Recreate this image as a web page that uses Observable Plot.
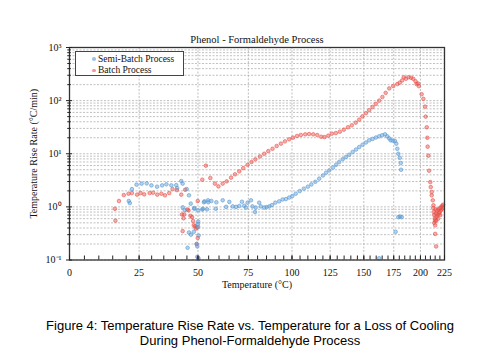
<!DOCTYPE html>
<html>
<head>
<meta charset="utf-8">
<script src="https://cdn.jsdelivr.net/npm/d3@7"></script>
<script src="https://cdn.jsdelivr.net/npm/@observablehq/plot@0.6"></script>
<style>
  body { margin: 0; background: #fff; }
  #wrap { position: relative; width: 500px; height: 363px; background: #fff; }
  #chart { position: absolute; left: 0; top: 0; }
  #legend { position: absolute; left: 75px; top: 51px; width: 107px; height: 23px; border: 1px solid #444; background: #fff;
            font-family: "Liberation Serif", "Times New Roman", serif; font-size: 9.5px; color: #111; }
  #legend .row { position: absolute; left: 0; height: 11px; line-height: 11px; white-space: nowrap; }
  #legend .mk { position: absolute; left: 16px; top: 3.5px; width: 3.5px; height: 3.5px; border-radius: 50%; }
  #legend .lb { position: absolute; left: 22px; top: 0; }
  #caption { position: absolute; top: 319px; left: 0; width: 500px; text-align: center;
             font: 13px/14.5px "Liberation Sans", Arial, sans-serif; color: #000; }
</style>
</head>
<body>
<div id="wrap">
  <div id="chart"></div>
  <div id="legend"></div>
  <div id="caption">Figure 4: Temperature Rise Rate vs. Temperature for a Loss of Cooling<br>During Phenol-Formaldehyde Process</div>
</div>
<script>
// ---------------- data ----------------
const title = "Phenol - Formaldehyde Process";
const xLabel = "Temperature (°C)";
const yLabel = "Temperature Rise Rate (°C/min)";
const seriesNames = ["Semi-Batch Process", "Batch Process"];
const seriesColors = ["#5b9bd5", "#e8504a"];

const xTicks = [0, 25, 50, 75, 100, 125, 150, 175, 200, 225];
const yTicks = [0.1, 1, 10, 100, 1000];

// Semi-Batch Process: temperature (°C) and rise rate (°C/min)
const semiT = [21.0, 21.4, 22.2, 24.0, 26.0, 28.0, 29.9, 32.2, 34.3, 36.1, 38.2, 40.3, 40.7, 42.5, 43.1, 44.9, 45.9, 46.7,
  43.1, 44.0, 48.4, 48.3, 50.1, 50.1, 50.0, 50.1, 45.9, 48.1, 46.8, 50.3, 45.3, 49.4, 49.7, 49.7, 50.2,
  52.0, 52.3, 52.8, 53.0, 54.2, 54.7, 54.8, 56.3, 58.4, 58.7, 61.8, 63.5, 65.1, 66.8, 68.5, 70.2, 71.6, 72.8, 73.7,
  74.6, 76.4, 77.2, 78.6, 79.0, 80.9, 81.8, 83.7, 85.0, 86.6, 88.1, 90.0, 92.3, 94.3, 96.3, 98.3, 100.2, 102.3,
  104.8, 107.4, 110.0, 112.3, 114.9, 117.5, 120.0, 122.2, 124.4, 127.0, 129.2, 131.4, 134.0, 136.4, 138.8, 141.4,
  143.9, 146.4, 149.0, 151.7, 154.3, 157.0, 159.7, 162.5, 165.0, 167.4, 169.4, 171.0, 172.3, 174.2, 176.1, 177.3,
  178.2, 179.1, 180.4, 181.3, 181.6, 179.1, 180.7, 182.2, 176.7, 162.5];
const semiRate = [1.29, 1.18, 2.16, 2.62, 2.74, 2.77, 2.54, 2.40, 2.54, 2.66, 2.54, 2.57, 2.26, 3.06, 2.74, 2.16, 1.65, 1.15,
  0.98, 0.87, 0.92, 0.95, 0.86, 0.53, 0.48, 0.42, 0.33, 0.34, 0.30, 0.29, 0.17, 0.20, 0.18, 0.115, 0.105,
  0.89, 0.92, 1.22, 1.27, 0.90, 1.33, 1.22, 1.29, 0.92, 1.22, 1.33, 1.00, 1.24, 1.02, 1.00, 1.04, 1.25, 1.05, 0.97,
  1.20, 1.33, 1.02, 0.80, 0.97, 1.20, 1.02, 0.97, 0.99, 1.02, 1.08, 1.20, 1.27, 1.38, 1.40, 1.50, 1.60, 1.77,
  1.98, 2.20, 2.40, 2.65, 2.97, 3.40, 3.90, 4.40, 4.87, 5.50, 6.20, 6.98, 7.90, 8.70, 9.60, 10.8,
  12.0, 13.4, 14.8, 16.3, 17.9, 19.0, 20.2, 21.3, 22.3, 23.2, 21.3, 19.5, 17.9, 17.6, 17.4, 15.5,
  12.4, 10.0, 8.4, 6.7, 5.0, 0.64, 0.66, 0.64, 0.34, 0.108];

// Batch Process: temperature (°C) and rise rate (°C/min)
const batchT = [15.8, 16.0, 17.3, 19.1, 20.9, 22.2, 24.2, 25.6, 27.0, 29.2, 30.6, 32.3, 34.0, 35.5, 37.3, 38.7, 40.6, 42.5, 44.2,
  42.8, 43.8, 43.5, 43.1, 45.2, 45.7, 46.6, 47.3, 47.8, 48.1, 48.7, 49.0, 49.7, 49.9, 49.4, 50.1, 49.9,
  52.0, 53.7, 55.8, 58.0, 59.7, 61.8, 63.8, 66.0, 68.0, 70.2, 72.3, 74.6, 76.7, 78.8, 81.3, 83.7, 86.0, 88.4, 90.8,
  93.3, 95.7, 98.3, 100.6, 103.1, 105.5, 108.3, 110.8, 113.5, 116.2, 118.9, 121.1, 123.7, 126.2, 129.0, 131.9,
  134.8, 137.8, 140.7, 143.7, 146.4, 148.9, 151.7, 154.3, 157.0, 159.6, 162.5, 165.2, 168.0, 171.1, 174.6, 178.2,
  180.4, 182.6, 184.1, 186.1, 188.5, 190.9, 193.0, 195.2, 196.2, 197.7, 198.5, 201.2, 202.9, 204.6, 205.2, 206.3,
  206.9, 207.2, 208.0, 208.7, 209.9, 210.4, 211.4, 211.4, 212.5, 213.2,
  213.0, 213.5, 214.0, 214.5, 215.0, 215.5, 216.0, 216.5, 217.0, 217.5, 218.0, 218.5, 219.0, 219.5, 220.0, 220.5,
  221.0, 221.5, 222.0, 222.5, 223.0, 223.5, 214.0, 215.0, 216.0, 215.0, 216.0];
const batchRate = [0.92, 0.55, 1.29, 1.67, 1.77, 1.82, 1.70, 1.82, 1.72, 1.82, 1.85, 1.70, 1.77, 1.65, 1.82, 2.16, 2.07, 1.70, 2.10,
  0.72, 0.72, 0.61, 0.35, 0.89, 0.86, 0.68, 0.64, 0.54, 0.45, 0.43, 0.39, 0.41, 0.26, 0.20, 0.11, 1.29,
  3.25, 5.97, 3.50, 2.74, 2.43, 2.74, 3.02, 3.55, 4.10, 4.66, 5.37, 6.20, 6.98, 7.86, 8.90, 10.0, 11.2, 12.4, 14.0,
  15.5, 17.1, 18.7, 20.1, 21.6, 22.6, 23.2, 23.5, 23.2, 22.5, 20.9, 20.6, 21.9, 23.9, 24.5, 26.0,
  28.4, 31.5, 34.3, 38.5, 43.8, 50.5, 58, 66, 75.5, 87, 100, 117, 140, 170, 188, 205,
  218, 240, 275, 258, 275, 270, 258, 232, 205, 210, 188, 132, 108, 77, 50, 31.5,
  20, 13.6, 9.2, 4.8, 2.93, 2.36, 1.9, 1.65, 1.33, 1.07,
  0.95, 0.80, 0.70, 0.60, 0.55, 0.90, 0.75, 0.65, 0.85, 0.70, 0.60, 0.90, 0.75, 0.80, 0.95, 0.70,
  0.85, 1.00, 0.90, 1.05, 0.95, 1.10, 0.50, 0.45, 0.55, 0.31, 0.18];

// ---------------- build ----------------
const inv = t => -1000 / (t + 273.15);          // Arrhenius-type axis (1/T)
const fromInv = v => -1000 / v - 273.15;

const semi = semiT.map((t, i) => ({t, r: semiRate[i]}));
const batch = batchT.map((t, i) => ({t, r: batchRate[i]}));

const yMinor = [];
for (let e = -1; e < 3; e++) for (let k = 2; k <= 9; k++) yMinor.push(k * Math.pow(10, e));
const yAll = yTicks.concat(yMinor);
const xMinor = d3.range(0, 226, 5);
const supMap = {"-": "⁻", "0": "⁰", "1": "¹", "2": "²", "3": "³", "4": "⁴", "5": "⁵", "6": "⁶", "7": "⁷", "8": "⁸", "9": "⁹"};
const pow10 = v => "10" + String(Math.round(Math.log10(v))).split("").map(c => supMap[c]).join("");

const chart = Plot.plot({
  width: 500,
  height: 300,
  marginLeft: 69,
  marginRight: 56,
  marginTop: 47,
  marginBottom: 40.5,
  style: {fontFamily: "'Liberation Serif', 'Times New Roman', serif", fontSize: "10px", background: "white", color: "#111"},
  x: {type: "linear", domain: [inv(0), inv(225)], axis: null},
  y: {type: "log", domain: [0.1, 1000], axis: null},
  marks: [
    Plot.gridY({ticks: yAll, stroke: "#b0b0b0", strokeOpacity: 1, strokeWidth: 0.8, strokeDasharray: "2,1.5"}),
    Plot.gridX({ticks: xTicks.map(inv), stroke: "#b0b0b0", strokeOpacity: 1, strokeWidth: 0.8, strokeDasharray: "2,1.5"}),
    Plot.dot(batch, {x: d => inv(d.t), y: "r", r: 1.8, fill: seriesColors[1], fillOpacity: 0.45, stroke: seriesColors[1], strokeOpacity: 0.75, strokeWidth: 0.8}),
    Plot.dot(semi, {x: d => inv(d.t), y: "r", r: 1.8, fill: seriesColors[0], fillOpacity: 0.45, stroke: seriesColors[0], strokeOpacity: 0.8, strokeWidth: 0.8}),
    Plot.frame({stroke: "#333", strokeWidth: 1.3}),
    Plot.axisY({ticks: yMinor, anchor: "left", tickSize: 3.5, insetLeft: 1.75, fill: "none", stroke: "#222", label: null}),
    Plot.axisY({ticks: yTicks, anchor: "left", tickSize: 6, insetLeft: 3, tickPadding: 5, tickFormat: pow10, stroke: "#222", fill: "#111", fontSize: 10, label: null}),
    Plot.axisX({ticks: xMinor.map(inv), anchor: "bottom", tickSize: 4, insetBottom: 4, fill: "none", stroke: "#222", label: null}),
    Plot.axisX({ticks: xTicks.map(inv), anchor: "bottom", tickSize: 4, insetBottom: 4, tickPadding: 9, tickFormat: v => Math.round(fromInv(v)), stroke: "#222", fill: "#111", fontSize: 10, label: null}),
    Plot.text([title], {text: d => d, frameAnchor: "top", lineAnchor: "middle", textAnchor: "middle", dy: -8, fontSize: 10.5, fill: "#111"}),
    Plot.text([xLabel], {text: d => d, frameAnchor: "bottom", lineAnchor: "middle", textAnchor: "middle", dy: 24.5, fontSize: 10, fill: "#111"}),
    Plot.text([yLabel], {text: d => d, frameAnchor: "left", lineAnchor: "middle", textAnchor: "middle", rotate: -90, dx: -36, fontSize: 10, fill: "#111"})
  ]
});
document.getElementById("chart").appendChild(chart);

// legend
const legend = document.getElementById("legend");
seriesNames.forEach((name, i) => {
  const row = document.createElement("div");
  row.className = "row";
  row.style.top = (i === 0 ? 1.5 : 13) + "px";
  row.style.width = "100%";
  const mk = document.createElement("span");
  mk.className = "mk";
  mk.style.background = seriesColors[i];
  mk.style.opacity = 0.6;
  const lb = document.createElement("span");
  lb.className = "lb";
  lb.textContent = name;
  row.appendChild(mk);
  row.appendChild(lb);
  legend.appendChild(row);
});
</script>
</body>
</html>
